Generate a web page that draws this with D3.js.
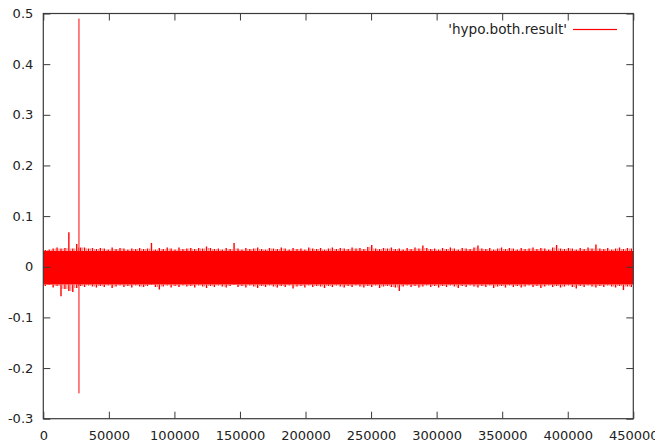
<!DOCTYPE html>
<html><head><meta charset="utf-8">
<script src="https://cdn.jsdelivr.net/npm/d3@7"></script>
<style>html,body{margin:0;padding:0;background:#fff;}svg{display:block;}</style>
</head><body>
<script>
// ---- data ----
const xTicks = [0, 50000, 100000, 150000, 200000, 250000, 300000, 350000, 400000, 450000];
const yTicks = [-0.3, -0.2, -0.1, 0, 0.1, 0.2, 0.3, 0.4, 0.5];
const yTickLabels = ["-0.3", "-0.2", "-0.1", "0", "0.1", "0.2", "0.3", "0.4", "0.5"];
const seriesName = "'hypo.both.result'";
const binWidth = 3000; // x units per envelope bin
// solid core of the dense signal (levels that are filled everywhere)
const coreHigh = 0.031;
const coreLow = -0.035;
// upper peak of the dense signal, one value per bin
const envHigh = [
 0.033,0.034,0.036,0.038,0.036,0.037,0.068,0.036,0.045,0.038,
 0.038,0.036,0.037,0.035,0.037,0.036,0.034,0.038,0.035,0.037,
 0.036,0.034,0.036,0.035,0.037,0.035,0.036,0.047,0.034,0.037,
 0.035,0.038,0.036,0.034,0.038,0.035,0.036,0.037,0.035,0.037,
 0.036,0.040,0.037,0.035,0.036,0.034,0.037,0.035,0.047,0.036,
 0.034,0.037,0.035,0.036,0.038,0.035,0.034,0.037,0.036,0.035,
 0.038,0.036,0.034,0.037,0.035,0.036,0.034,0.038,0.036,0.035,
 0.037,0.034,0.036,0.038,0.035,0.037,0.036,0.035,0.038,0.036,
 0.037,0.035,0.039,0.043,0.036,0.035,0.037,0.036,0.038,0.035,
 0.036,0.034,0.037,0.035,0.038,0.036,0.042,0.037,0.035,0.036,
 0.034,0.037,0.035,0.038,0.036,0.034,0.037,0.036,0.035,0.038,
 0.042,0.036,0.035,0.037,0.034,0.036,0.038,0.035,0.037,0.036,
 0.034,0.037,0.035,0.036,0.038,0.035,0.037,0.036,0.034,0.038,
 0.043,0.036,0.035,0.037,0.036,0.034,0.037,0.035,0.038,0.036,
 0.044,0.036,0.035,0.037,0.034,0.036,0.038,0.035,0.037,0.036
];
// lower peak of the dense signal, one value per bin
const envLow = [
 -0.038,-0.036,-0.041,-0.038,-0.058,-0.044,-0.048,-0.050,-0.042,-0.038,
 -0.040,-0.037,-0.039,-0.041,-0.038,-0.040,-0.037,-0.042,-0.039,-0.037,
 -0.040,-0.038,-0.041,-0.037,-0.039,-0.040,-0.038,-0.036,-0.040,-0.045,
 -0.039,-0.037,-0.041,-0.038,-0.040,-0.037,-0.039,-0.038,-0.041,-0.037,
 -0.039,-0.042,-0.038,-0.040,-0.037,-0.039,-0.041,-0.038,-0.036,-0.040,
 -0.038,-0.041,-0.037,-0.039,-0.042,-0.038,-0.040,-0.037,-0.039,-0.041,
 -0.038,-0.040,-0.037,-0.043,-0.039,-0.038,-0.041,-0.037,-0.040,-0.038,
 -0.039,-0.042,-0.038,-0.040,-0.037,-0.039,-0.041,-0.038,-0.040,-0.037,
 -0.039,-0.041,-0.038,-0.040,-0.037,-0.042,-0.039,-0.038,-0.040,-0.041,
 -0.048,-0.039,-0.037,-0.040,-0.038,-0.041,-0.039,-0.037,-0.040,-0.038,
 -0.041,-0.038,-0.040,-0.037,-0.039,-0.042,-0.038,-0.040,-0.037,-0.039,
 -0.041,-0.038,-0.040,-0.037,-0.042,-0.039,-0.038,-0.041,-0.037,-0.040,
 -0.038,-0.041,-0.039,-0.037,-0.040,-0.038,-0.042,-0.039,-0.037,-0.040,
 -0.038,-0.041,-0.039,-0.037,-0.040,-0.043,-0.038,-0.040,-0.037,-0.039,
 -0.041,-0.038,-0.040,-0.037,-0.039,-0.041,-0.038,-0.046,-0.039,-0.040
];
// the single large excursion
const spikeX = [27200, 27200];
const spikeY = [0.49, -0.25];

// ---- layout ----
const W = 655, H = 443;
const L = 43.3, R = 633.3, T = 13.5, B = 418.7;
const svg = d3.select("body").append("svg").attr("width", W).attr("height", H);
const x = d3.scaleLinear().domain([0, 450000]).range([L, R]);
const y = d3.scaleLinear().domain([-0.3, 0.5]).range([B, T]);
const font = "DejaVu Sans, sans-serif";
const fs = 13;
const tickLen = 7;
const frameColor = "#3a3a3a";
const red = "#ff0000";

// solid core band
svg.append("path")
  .datum([{xv: 0}, {xv: 450000}])
  .attr("d", d3.area().x(d => x(d.xv)).y0(y(coreLow)).y1(y(coreHigh)))
  .attr("fill", red);

// peaks: needles from the core out to each bin's extreme
const g = svg.append("g").attr("stroke", red).attr("stroke-width", 1.4);
envHigh.forEach((h, i) => {
  const xv = Math.min(450000, i * binWidth + binWidth / 2);
  g.append("line").attr("x1", x(xv)).attr("x2", x(xv)).attr("y1", y(coreHigh)).attr("y2", y(h));
  g.append("line").attr("x1", x(xv)).attr("x2", x(xv)).attr("y1", y(coreLow)).attr("y2", y(envLow[i]));
});
// softer half-offset fringe between the needles (antialiased look)
const g2 = svg.append("g").attr("stroke", red).attr("stroke-width", 1.2).attr("stroke-opacity", 0.5);
envHigh.forEach((h, i) => {
  if (i === 0) return;
  const xv = i * binWidth;
  const hh = Math.min(h, envHigh[i - 1]);
  const ll = Math.max(envLow[i], envLow[i - 1]);
  g2.append("line").attr("x1", x(xv)).attr("x2", x(xv)).attr("y1", y(coreHigh)).attr("y2", y(hh));
  g2.append("line").attr("x1", x(xv)).attr("x2", x(xv)).attr("y1", y(coreLow)).attr("y2", y(ll));
});

// big spike
const line = d3.line().x(d => x(d[0])).y(d => y(d[1]));
svg.append("path").datum(spikeX.map((v, i) => [v, spikeY[i]])).attr("d", line)
  .attr("stroke", red).attr("stroke-width", 1).attr("fill", "none");

// axes (ticks inward, mirrored)
const axL = d3.axisLeft(y).tickValues(yTicks).tickSize(-tickLen).tickFormat((d, i) => yTickLabels[i]).tickPadding(10);
const axR = d3.axisRight(y).tickValues(yTicks).tickSize(-tickLen).tickFormat("");
const axB = d3.axisBottom(x).tickValues(xTicks).tickSize(-tickLen).tickFormat(d3.format("d")).tickPadding(12.5);
const axT = d3.axisTop(x).tickValues(xTicks).tickSize(-tickLen).tickFormat("");
function styleAxis(sel) {
  sel.select(".domain").remove();
  sel.selectAll(".tick line").attr("stroke", frameColor).attr("stroke-width", 1);
  sel.selectAll("text").attr("fill", "#222").attr("font-family", font).attr("font-size", fs);
}
svg.append("g").attr("transform", `translate(${L},0)`).call(axL).call(styleAxis);
svg.append("g").attr("transform", `translate(${R},0)`).call(axR).call(styleAxis);
svg.append("g").attr("transform", `translate(0,${B})`).call(axB).call(styleAxis);
svg.append("g").attr("transform", `translate(0,${T})`).call(axT).call(styleAxis);

// frame
svg.append("rect").attr("x", L).attr("y", T).attr("width", R - L).attr("height", B - T)
  .attr("fill", "none").attr("stroke", frameColor).attr("stroke-width", 1.2);

// legend
svg.append("text").attr("x", 567).attr("y", 34).attr("text-anchor", "end")
  .attr("font-family", font).attr("font-size", fs + 0.6).attr("fill", "#222").text(seriesName);
svg.append("rect").attr("x", 573).attr("y", 28.9).attr("width", 44).attr("height", 1.2).attr("fill", red);
</script>
</body></html>
